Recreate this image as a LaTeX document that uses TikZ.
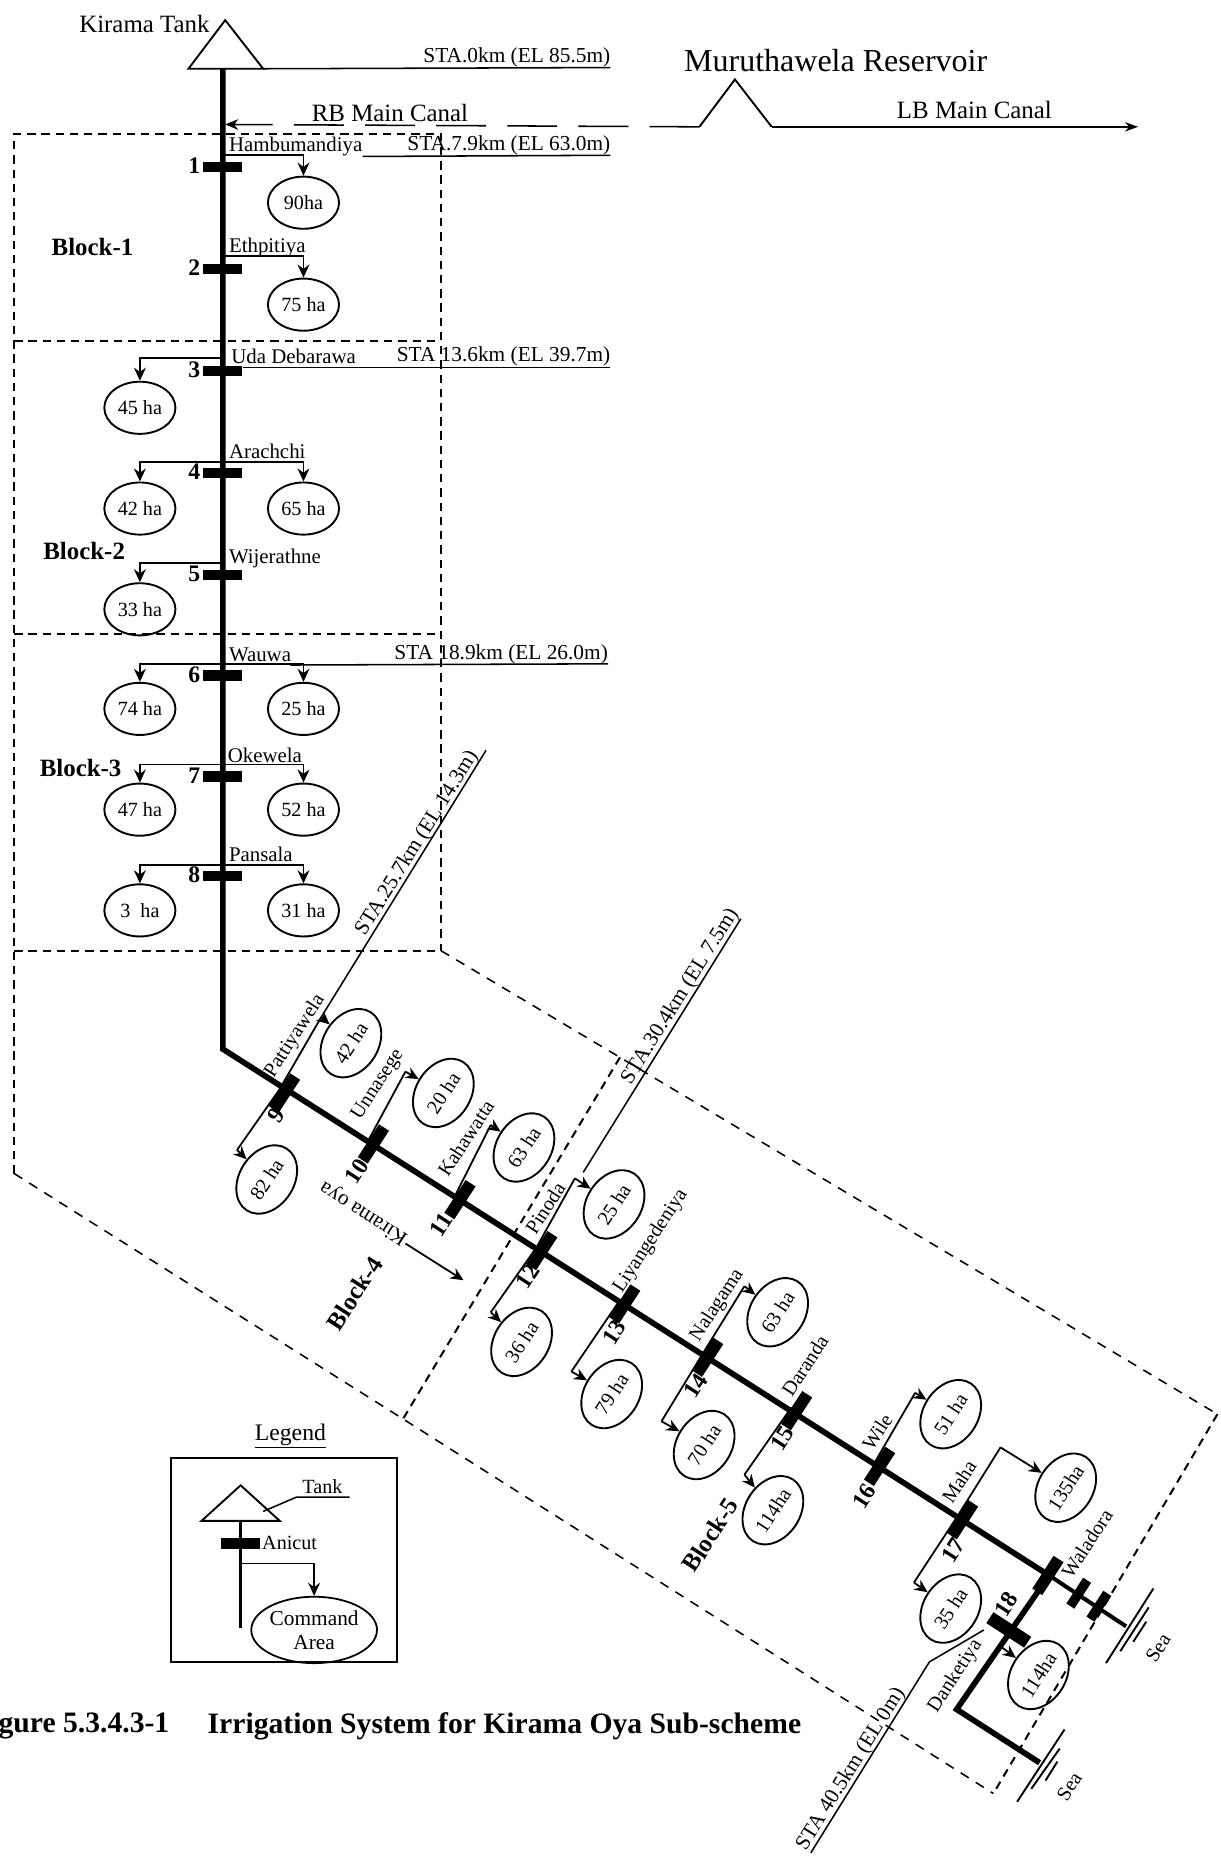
\documentclass[tikz,border=0pt]{standalone}
\usepackage{fontspec}
\setmainfont{Liberation Serif}
\usetikzlibrary{arrows.meta,shapes.geometric}
\tikzset{
  x=1pt,y=-1pt,
  lab/.style={inner sep=0pt,font=\fontsize{17.6}{19}\selectfont},
  sta/.style={lab,anchor=south east,font=\fontsize{18}{20}\selectfont},
  big/.style={inner sep=0pt,font=\fontsize{21}{23}\selectfont},
  num/.style={inner sep=0pt,font=\bfseries\fontsize{20}{22}\selectfont},
  blk/.style={inner sep=0pt,font=\bfseries\fontsize{21}{23}\selectfont},
  area/.style={ellipse,draw,line width=1.6pt,minimum width=60pt,minimum height=44pt,inner sep=0pt,font=\fontsize{17}{19}\selectfont},
  rarea/.style={area,rotate=57,minimum width=62pt,minimum height=46pt},
  rlab/.style={lab,rotate=57,font=\fontsize{17}{19}\selectfont},
  rsta/.style={lab,rotate=58,anchor=south,font=\fontsize{18}{20}\selectfont},
  rnum/.style={num,rotate=57},
  anicut/.style={rectangle,fill=black,minimum width=33pt,minimum height=9pt,inner sep=0pt},
  ranicut/.style={anicut,rotate=57,minimum height=10pt},
  river/.style={line width=4.8pt,line join=miter},
  branch/.style={line width=1.5pt},
  feeder/.style={line width=1.5pt,-{Stealth[length=11pt,width=10pt]}},
  stline/.style={line width=1.3pt},
  bdash/.style={line width=1.7pt,dash pattern=on 7pt off 5pt},
  tdash/.style={line width=1.3pt,dash pattern=on 8pt off 7pt},
  tank/.style={line width=1.6pt,line join=miter},
}
\begin{document}
\begin{tikzpicture}
\useasboundingbox (0,0) rectangle (1030,1567.4);
\fill[white] (0,0) rectangle (1030,1567.4);

% ---- block boundaries
\coordinate (b0) at (12,113);
\coordinate (b1) at (372,113);
\coordinate (bl) at (12,990);
\coordinate (br) at (372,802);
\coordinate (c1) at (523,892);
\coordinate (c2) at (340,1197);
\coordinate (c3) at (1027,1193);
\coordinate (c4) at (838,1513);
\draw[bdash] (bl) -- (b0) -- (b1) -- (br);
\draw[bdash] (12,288) -- (372,288);
\draw[bdash] (12,535) -- (372,535);
\draw[bdash] (12,802) -- (br);
\draw[tdash] (br) -- (c1) -- (c3);
\draw[tdash] (bl) -- (c2) -- (c4);
\draw[bdash] (c3) -- (c4);
\draw[bdash] (c1) -- (c2);

% ---- tanks
\coordinate (k0) at (190,17);
\coordinate (k1) at (159,58);
\coordinate (k2) at (222,58);
\draw[tank] (k1) -- (k0) -- (k2) -- cycle;
\node[big,anchor=east] (kt) at (177,20) {Kirama Tank};
\coordinate (m0) at (620,67);
\coordinate (m1) at (590,107);
\coordinate (m2) at (651,107);
\draw[tank] (m1) -- (m0) -- (m2);
\node[inner sep=0pt,font=\fontsize{27}{29}\selectfont] (mr) at (705,51) {Muruthawela Reservoir};

% ---- canals
\coordinate (rbe) at (190,105);
\coordinate (rbs) at (590,107);
\draw[line width=1.3pt,dash pattern=on 42pt off 18pt,-{Stealth[length=11pt,width=9pt]}] (rbs) -- (rbe);
\node[big] (rb) at (329,95) {RB Main Canal};
\coordinate (lbe) at (960,107);
\draw[line width=1.3pt,-{Stealth[length=11pt,width=8pt]}] (m2) -- (lbe);
\node[big] (lb) at (822,93) {LB Main Canal};

% ---- STA labels
\node[sta] (s0) at (515,57) {STA.0km (EL 85.5m)};
\draw[stline] (k2) -- (s0.south east);
\node[sta] (s1) at (515,131) {STA.7.9km (EL 63.0m)};
\node[sta] (s2) at (515,309) {STA 13.6km (EL 39.7m)};
\node[sta] (s3) at (513,560) {STA 18.9km (EL 26.0m)};
\coordinate (s1a) at (306,132);
\coordinate (s2a) at (205,310);
\coordinate (s2b) at (515,310);
\coordinate (s3a) at (245,561);
\draw[stline] (s1a) -- (s1.south east);
\draw[stline] (s2a) -- (s2b);
\draw[stline] (s3a) -- (s3.south east);

% ---- main river
\coordinate (r0) at (188,58);
\coordinate (r1) at (188,885);
\coordinate (wal) at (885,1329);
\coordinate (seaA) at (950,1372);
\coordinate (dk) at (807,1442);
\coordinate (seaB) at (877,1487);
\draw[river] (r0) -- (r1) -- (wal);
\draw[line width=3.4pt] (wal) -- (seaA);
\draw[river] (wal) -- (dk) -- (seaB);

% ---- upper anicuts
\foreach \n/\y in {1/141,2/227,3/313,4/399,5/485,6/570,7/655,8/739}{
  \node[anicut] (a\n) at (188,\y) {};
  \node[num] (n\n) at (164,\y-1) {\n};
}

% ---- upper command areas
\node[area] (e1) at (256,171) {90ha};
\node[area] (e2) at (256,257) {75 ha};
\node[area] (e3) at (118,344) {45 ha};
\node[area] (e4l) at (118,429) {42 ha};
\node[area] (e4r) at (256,429) {65 ha};
\node[area] (e5) at (118,514) {33 ha};
\node[area] (e6l) at (118,598) {74 ha};
\node[area] (e6r) at (256,598) {25 ha};
\node[area] (e7l) at (118,683) {47 ha};
\node[area] (e7r) at (256,683) {52 ha};
\node[area] (e8l) at (118,768) {3\ \ ha};
\node[area] (e8r) at (256,768) {31 ha};

\coordinate (t1) at (188,131);
\coordinate (t2) at (188,216);
\coordinate (t3) at (188,302);
\coordinate (t4) at (188,390);
\coordinate (t5) at (188,475);
\coordinate (t6) at (188,560);
\coordinate (t7) at (188,645);
\coordinate (t8) at (188,730);
\draw[feeder] (t1) -| (e1.north);
\draw[feeder] (t2) -| (e2.north);
\draw[feeder] (t3) -| (e3.north);
\draw[feeder] (t4) -| (e4l.north);
\draw[feeder] (t4) -| (e4r.north);
\draw[feeder] (t5) -| (e5.north);
\draw[feeder] (t6) -| (e6l.north);
\draw[feeder] (t6) -| (e6r.north);
\draw[feeder] (t7) -| (e7l.north);
\draw[feeder] (t7) -| (e7r.north);
\draw[feeder] (t8) -| (e8l.north);
\draw[feeder] (t8) -| (e8r.north);

% ---- upper names
\node[lab,anchor=south west] (l1) at (193,132) {Hambumandiya};
\node[lab,anchor=west] (l2) at (193,209) {Ethpitiya};
\node[lab,anchor=west] (l3) at (195,301) {Uda Debarawa};
\node[lab,anchor=west] (l4) at (193,381) {Arachchi};
\node[lab,anchor=west] (l5) at (193,471) {Wijerathne};
\node[lab,anchor=west] (l6) at (193,552) {Wauwa};
\node[lab,anchor=west] (l7) at (192,637) {Okewela};
\node[lab,anchor=west] (l8) at (193,721) {Pansala};

\node[blk] (B1) at (78,208) {Block-1};
\node[blk] (B2) at (71,465) {Block-2};
\node[blk] (B3) at (68,648) {Block-3};
\node[blk,rotate=57] (B4) at (299,1091) {Block-4};
\node[blk,rotate=57] (B5) at (599,1295) {Block-5};

% ---- lower anicuts
\foreach \n/\x/\y in {9/240/922,10/315/965,11/388/1012,12/457/1055,13/527/1100,14/597/1145,15/672/1190,16/742/1237,17/812/1282}{
  \node[ranicut] (a\n) at (\x,\y) {};
}
\node[ranicut] (aw) at (884,1329) {};
\node[ranicut,minimum width=26pt,minimum height=8pt] (ax) at (910,1344) {};
\node[ranicut,minimum width=26pt,minimum height=8pt] (ay) at (927,1355) {};
\node[anicut,rotate=-33,minimum width=38pt,minimum height=11pt] (a18) at (851,1375) {};

% ---- lower numbers
\node[rnum] (n9) at (233,941) {9};
\node[rnum] (n10) at (301,988) {10};
\node[rnum] (n11) at (372,1033) {11};
\node[rnum] (n12) at (445,1077) {12};
\node[rnum] (n13) at (518,1124) {13};
\node[rnum] (n14) at (587,1169) {14};
\node[rnum] (n15) at (660,1213) {15};
\node[rnum] (n16) at (729,1262) {16};
\node[rnum] (n17) at (804,1308) {17};
\node[rnum] (n18) at (849,1353) {18};

% ---- lower command areas
\node[rarea] (f9u) at (296,880) {42 ha};
\node[rarea] (f9d) at (225,995) {82 ha};
\node[rarea] (f10) at (374,922) {20 ha};
\node[rarea] (f11) at (442,968) {63 ha};
\node[rarea] (f12u) at (518,1016) {25 ha};
\node[rarea] (f12d) at (440,1132) {36 ha};
\node[rarea] (f13) at (516,1176) {79 ha};
\node[rarea] (f14u) at (656,1107) {63 ha};
\node[rarea] (f14d) at (594,1219) {70 ha};
\node[rarea] (f15) at (652,1274) {114ha};
\node[rarea] (f16) at (802,1193) {51 ha};
\node[rarea] (f17u) at (899,1255) {135ha};
\node[rarea] (f17d) at (802,1357) {35 ha};
\node[rarea] (f18) at (876,1413) {114ha};

% ---- elbows and feeders
\coordinate (g9u) at (271,858);
\coordinate (g9d) at (200,970);
\coordinate (g10) at (342,904);
\coordinate (g11) at (414,949);
\coordinate (g12u) at (485,994);
\coordinate (g12d) at (414,1107);
\coordinate (g13) at (482,1157);
\coordinate (g14u) at (628,1085);
\coordinate (g14d) at (558,1199);
\coordinate (g15) at (628,1244);
\coordinate (g16) at (772,1175);
\coordinate (g17u) at (844,1221);
\coordinate (g17d) at (771,1335);
\coordinate (g18) at (843,1388);
\draw[branch] (a9.north) -- (g9d);
\draw[branch] (a9.north) -- (g9u);
\draw[branch] (a10.north) -- (g10);
\draw[branch] (a11.north) -- (g11);
\draw[branch] (a12.north) -- (g12u);
\draw[branch] (a12.north) -- (g12d);
\draw[branch] (a13.north) -- (g13);
\draw[branch] (a14.north) -- (g14u);
\draw[branch] (a14.north) -- (g14d);
\draw[branch] (a15.north) -- (g15);
\draw[branch] (a16.north) -- (g16);
\draw[branch] (a17.north) -- (g17u);
\draw[branch] (a17.north) -- (g17d);
\draw[feeder] (g9u) -- (f9u);
\draw[feeder] (g9d) -- (f9d);
\draw[feeder] (g10) -- (f10);
\draw[feeder] (g11) -- (f11);
\draw[feeder] (g12u) -- (f12u);
\draw[feeder] (g12d) -- (f12d);
\draw[feeder] (g13) -- (f13);
\draw[feeder] (g14u) -- (f14u);
\draw[feeder] (g14d) -- (f14d);
\draw[feeder] (g15) -- (f15);
\draw[feeder] (g16) -- (f16);
\draw[feeder] (g17u) -- (f17u);
\draw[feeder] (g17d) -- (f17d);
\draw[feeder] (g18) -- (f18);

% ---- slanted STA lines
\coordinate (p1) at (410,633);
\coordinate (p2) at (625,775);
\coordinate (p3) at (492,989);
\coordinate (p4) at (830,1375);
\coordinate (p5) at (784,1402);
\coordinate (p6) at (684,1563);
\draw[stline] (p1) -- (g9u);
\draw[stline] (p2) -- (p3);
\draw[stline] (p4) -- (p5) -- (p6);
\node[rsta] (s25) at (359,716) {STA.25.7km (EL 14.3m)};
\node[rsta] (s30) at (581,845) {STA.30.4km (EL 7.5m)};
\node[rsta] (s40) at (725,1497) {STA 40.5km (EL 0m)};

% ---- slanted names
\node[rlab] (l9) at (249,874) {Pattiyawela};
\node[rlab] (l10) at (319,915) {Unnasege};
\node[rlab] (l11) at (393,960) {Kahawatta};
\node[rlab] (l12) at (460,1019) {Pinoda};
\node[rlab] (l13) at (549,1047) {Liyangedeniya};
\node[rlab] (l14) at (605,1101) {Nalagama};
\node[rlab] (l15) at (679,1152) {Daranda};
\node[rlab] (l16) at (740,1208) {Wile};
\node[rlab] (l17) at (809,1250) {Maha};
\node[rlab] (lw) at (917,1302) {Waladora};
\node[rlab] (ld) at (806,1414) {Danketiya};

% ---- river label
\node[lab,rotate=147,font=\fontsize{18}{20}\selectfont] (ko) at (307,1023) {Kirama oya};
\coordinate (fa) at (342,1049);
\coordinate (fb) at (391,1080);
\draw[feeder] (fa) -- (fb);

% ---- sea
\coordinate (sa1) at (973,1340); \coordinate (sa2) at (933,1403);
\coordinate (sa3) at (969,1356); \coordinate (sa4) at (945,1393);
\coordinate (sa5) at (967,1368); \coordinate (sa6) at (956,1385);
\coordinate (sb1) at (898,1459); \coordinate (sb2) at (858,1520);
\coordinate (sb3) at (894,1475); \coordinate (sb4) at (870,1509);
\coordinate (sb5) at (892,1486); \coordinate (sb6) at (882,1502);
\draw[line width=1.6pt] (sa1) -- (sa2) (sa3) -- (sa4) (sa5) -- (sa6);
\draw[line width=1.6pt] (sb1) -- (sb2) (sb3) -- (sb4) (sb5) -- (sb6);
\node[rlab] (sea1) at (977,1390) {Sea};
\node[rlab] (sea2) at (902,1507) {Sea};

% ---- legend
\node[inner sep=0pt,font=\fontsize{20}{22}\selectfont] (lg) at (245,1211) {\underline{Legend}};
\draw[line width=1.7pt] (144,1230) rectangle (335,1402);
\coordinate (q0) at (203,1253);
\coordinate (q1) at (170,1283);
\coordinate (q2) at (236,1283);
\coordinate (q3) at (203,1373);
\draw[tank] (q1) -- (q0) -- (q2) -- cycle;
\draw[line width=2.4pt] (203,1283) -- (q3);
\node[anicut] (qa) at (203,1302) {};
\node[lab,anchor=west,font=\fontsize{17}{19}\selectfont] (qan) at (221,1302) {Anicut};
\node[lab,font=\fontsize{17}{19}\selectfont] (qt) at (272,1254) {Tank};
\coordinate (qb) at (222,1275);
\coordinate (qc) at (250,1263);
\coordinate (qd) at (295,1263);
\draw[line width=1.3pt] (qb) -- (qc) -- (qd);
\node[ellipse,draw,line width=1.5pt,minimum width=88pt,minimum height=56pt,inner sep=0pt,align=center,font=\fontsize{18}{20}\selectfont] (qe) at (265,1375) {Command\\Area};
\coordinate (qf) at (203,1319);
\draw[feeder] (qf) -| (qe.north);

% ---- caption
\node[inner sep=0pt,anchor=east,font=\bfseries\fontsize{25}{27}\selectfont] (cap1) at (143,1456) {Figure 5.3.4.3-1};
\node[inner sep=0pt,anchor=west,font=\bfseries\fontsize{25}{27}\selectfont] (cap2) at (175,1456) {Irrigation System for Kirama Oya Sub-scheme};
\end{tikzpicture}
\end{document}
